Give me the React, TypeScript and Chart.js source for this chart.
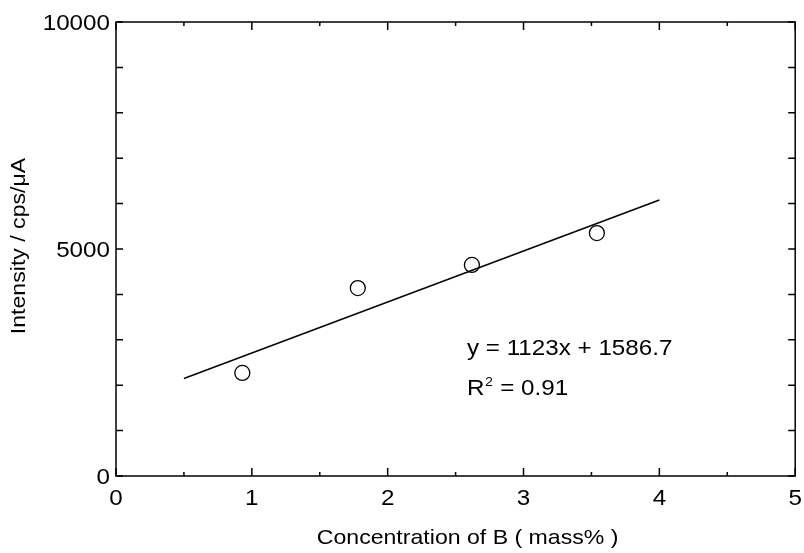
import React, { useEffect, useRef } from "react";
import { Chart, registerables } from "chart.js";

Chart.register(...registerables);

// Measured data points
const concentration = [0.93, 1.78, 2.62, 3.54];
const intensity = [2270, 4140, 4650, 5350];

// Regression line end points (y = 1123x + 1586.7)
const fitX = [0.5, 4.0];
const fitY = [2148.2, 6078.7];

// Axis ticks
const xTickValues = [0, 1, 2, 3, 4, 5];
const xMinorTicks = [0.5, 1.5, 2.5, 3.5, 4.5];
const yTickValues = [0, 5000, 10000];
const yMinorTicks = [1000, 2000, 3000, 4000, 6000, 7000, 8000, 9000];

const xTitle = "Concentration of B ( mass% )";
const yTitle = "Intensity / cps/\u03bcA";
const eqText = "y = 1123x + 1586.7";
const r2Value = " = 0.91";

const FONT = '"Liberation Sans", Arial, sans-serif';
const SX = 1.1;

function drawText(
  ctx: CanvasRenderingContext2D,
  text: string,
  x: number,
  y: number,
  size: number,
  align: CanvasTextAlign,
  rotate = 0
) {
  ctx.save();
  ctx.translate(x, y);
  if (rotate) ctx.rotate(rotate);
  ctx.scale(SX, 1);
  ctx.font = `${size}px ${FONT}`;
  ctx.textAlign = align;
  ctx.textBaseline = "alphabetic";
  ctx.fillStyle = "#000";
  ctx.fillText(text, 0, 0);
  ctx.restore();
}

function textWidth(ctx: CanvasRenderingContext2D, text: string, size: number) {
  ctx.save();
  ctx.font = `${size}px ${FONT}`;
  const w = ctx.measureText(text).width * SX;
  ctx.restore();
  return w;
}

const framePlugin = {
  id: "frame",
  beforeDatasetsDraw(chart: any) {
    const ctx: CanvasRenderingContext2D = chart.ctx;
    const { left, right, top, bottom } = chart.chartArea;
    const xs = chart.scales.x;
    const ys = chart.scales.y;
    ctx.save();
    ctx.strokeStyle = "#000";
    ctx.lineWidth = 1.5;
    ctx.strokeRect(left, top, right - left, bottom - top);
    ctx.beginPath();
    const xMajor = xs.ticks.map((t: any) => t.value);
    xMajor.forEach((v: number) => {
      const px = xs.getPixelForValue(v);
      ctx.moveTo(px, bottom);
      ctx.lineTo(px, bottom - 8);
      ctx.moveTo(px, top);
      ctx.lineTo(px, top + 8);
    });
    xMinorTicks.forEach((v) => {
      const px = xs.getPixelForValue(v);
      ctx.moveTo(px, bottom);
      ctx.lineTo(px, bottom - 4);
      ctx.moveTo(px, top);
      ctx.lineTo(px, top + 4);
    });
    const yAll = [...ys.ticks.map((t: any) => t.value), ...yMinorTicks];
    yAll.forEach((v: number) => {
      const py = ys.getPixelForValue(v);
      ctx.moveTo(left, py);
      ctx.lineTo(left + 7, py);
      ctx.moveTo(right, py);
      ctx.lineTo(right - 7, py);
    });
    ctx.stroke();
    ctx.restore();
  },
  afterDraw(chart: any) {
    const ctx: CanvasRenderingContext2D = chart.ctx;
    const { left, right, top, bottom } = chart.chartArea;
    const xs = chart.scales.x;
    const ys = chart.scales.y;
    // tick labels
    xs.ticks.forEach((t: any) => {
      drawText(ctx, String(t.value), xs.getPixelForValue(t.value), bottom + 29, 22, "center");
    });
    ys.ticks.forEach((t: any) => {
      drawText(ctx, String(t.value), left - 6, ys.getPixelForValue(t.value) + 8, 22, "right");
    });
    // axis titles
    drawText(ctx, xTitle, (left + right) / 2 + 12, 544, 21, "center");
    drawText(ctx, yTitle, 25, (top + bottom) / 2 - 3, 21, "center", -Math.PI / 2);
    // annotation
    drawText(ctx, eqText, 467, 355, 22, "left");
    const rx = 467;
    const ry = 395;
    drawText(ctx, "R", rx, ry, 22, "left");
    const wR = textWidth(ctx, "R", 22);
    drawText(ctx, "2", rx + wR + 0.5, ry - 9, 13, "left");
    const w2 = textWidth(ctx, "2", 13);
    drawText(ctx, r2Value, rx + wR + w2 + 1, ry, 22, "left");
  },
};

export default function App() {
  const ref = useRef<HTMLCanvasElement | null>(null);
  useEffect(() => {
    if (!ref.current) return;
    const chart = new Chart(ref.current, {
      type: "scatter",
      data: {
        datasets: [
          {
            type: "line",
            label: "fit",
            data: fitX.map((x, i) => ({ x, y: fitY[i] })),
            borderColor: "#000",
            borderWidth: 1.4,
            pointRadius: 0,
            fill: false,
          } as any,
          {
            label: "data",
            data: concentration.map((x, i) => ({ x, y: intensity[i] })),
            pointStyle: "circle",
            pointRadius: 7.5,
            pointBackgroundColor: "#fff",
            pointBorderColor: "#000",
            pointBorderWidth: 1.3,
          },
        ],
      },
      options: {
        responsive: false,
        devicePixelRatio: 1,
        animation: false,
        events: [],
        layout: { padding: { left: 0, top: 22, right: 8, bottom: 0 } },
        plugins: {
          legend: { display: false },
          tooltip: { enabled: false },
        },
        scales: {
          x: {
            type: "linear",
            min: 0,
            max: 5,
            grid: { display: false },
            border: { display: false },
            ticks: { display: false, stepSize: 1 },
            afterBuildTicks: (s: any) => {
              s.ticks = xTickValues.map((v) => ({ value: v }));
            },
            afterFit: (s: any) => {
              s.height = 77;
            },
          },
          y: {
            type: "linear",
            min: 0,
            max: 10000,
            grid: { display: false },
            border: { display: false },
            ticks: { display: false, stepSize: 5000 },
            afterBuildTicks: (s: any) => {
              s.ticks = yTickValues.map((v) => ({ value: v }));
            },
            afterFit: (s: any) => {
              s.width = 116;
            },
          },
        },
      },
      plugins: [framePlugin],
    });
    return () => chart.destroy();
  }, []);
  return (
    <div style={{ position: "absolute", left: 0, top: 0, width: 804, height: 553, background: "#fff" }}>
      <canvas ref={ref} width={804} height={553} />
    </div>
  );
}
